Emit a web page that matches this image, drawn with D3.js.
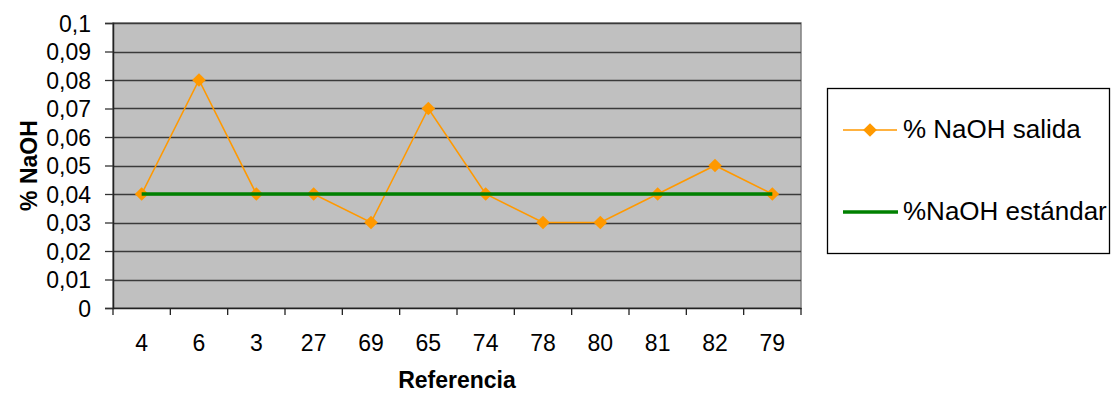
<!DOCTYPE html>
<html><head><meta charset="utf-8">
<script src="https://cdn.jsdelivr.net/npm/d3@7"></script>
<style>body{margin:0;background:#fff}svg{display:block;font-family:"Liberation Sans",Arial,sans-serif}</style>
</head><body><svg id="c" width="1115" height="396"></svg>
<script>
const categories = ["4","6","3","27","69","65","74","78","80","81","82","79"];
const salida = [0.04,0.08,0.04,0.04,0.03,0.07,0.04,0.03,0.03,0.04,0.05,0.04];
const estandar = [0.04,0.04,0.04,0.04,0.04,0.04,0.04,0.04,0.04,0.04,0.04,0.04];
const yTicks = [0,0.01,0.02,0.03,0.04,0.05,0.06,0.07,0.08,0.09,0.1];
const seriesNames = ["% NaOH salida","%NaOH estándar"];

const svg = d3.select("#c");
const L=113, R=801, T=23, B=308;
const x = d3.scaleBand().domain(categories).range([L,R]);
const y = d3.scaleLinear().domain([0,0.1]).range([B,T]);
const fmt = d => String(+d.toFixed(2)).replace(".",",");
const FF = "'Liberation Sans',Arial,sans-serif";

svg.append("rect").attr("x",L).attr("y",T).attr("width",R-L).attr("height",B-T)
  .attr("fill","#c0c0c0").attr("stroke","#808080").attr("stroke-width",1.5);

// gridlines
svg.append("g").selectAll("line").data(yTicks.filter(d=>d>0)).join("line")
  .attr("x1",L).attr("x2",R).attr("y1",d=>Math.round(y(d))+0.5).attr("y2",d=>Math.round(y(d))+0.5)
  .attr("stroke","#3a3a3a").attr("stroke-width",1.3);

// y axis
const ya = svg.append("g").attr("transform",`translate(${L},0)`)
  .call(d3.axisLeft(y).tickValues(yTicks).tickFormat(fmt).tickSize(8).tickPadding(14));
ya.select(".domain").attr("stroke","#222").attr("stroke-width",1.5);
ya.selectAll(".tick line").attr("stroke","#333").attr("stroke-width",1.3);
ya.selectAll("text").attr("font-size",23).attr("fill","#000").attr("dy","0.36em").attr("x",-22)
  .attr("font-family",FF);

// x axis
const xa = svg.append("g").attr("transform",`translate(0,${B})`)
  .call(d3.axisBottom(x).tickSize(0).tickPadding(0));
xa.select(".domain").attr("stroke","#222").attr("stroke-width",1.5);
xa.selectAll("text").attr("font-size",23).attr("fill","#000").attr("dy",0).attr("y",43)
  .attr("font-family",FF);
const bounds = categories.map(c=>x(c)).concat([R]);
xa.selectAll("line.b").data(bounds).join("line").attr("class","b")
  .attr("x1",d=>d).attr("x2",d=>d).attr("y1",0).attr("y2",7).attr("stroke","#222").attr("stroke-width",1.3);

const cx = c => x(c)+x.bandwidth()/2;
const diamond = d3.symbol().type(d3.symbolDiamond2).size(120);

// orange series
svg.append("path").datum(salida)
  .attr("d",d3.line().x((d,i)=>cx(categories[i])).y(d=>y(d)))
  .attr("fill","none").attr("stroke","#ff9900").attr("stroke-width",1.6);
svg.append("g").selectAll("path").data(salida).join("path")
  .attr("transform",(d,i)=>`translate(${cx(categories[i])},${y(d)})`)
  .attr("d",diamond).attr("fill","#ff9900");

// green series
svg.append("path").datum(estandar)
  .attr("d",d3.line().x((d,i)=>cx(categories[i])).y(d=>y(d)))
  .attr("fill","none").attr("stroke","#008000").attr("stroke-width",3.5);

// axis titles
svg.append("text").attr("x",(L+R)/2).attr("y",388).attr("text-anchor","middle")
  .attr("font-size",23).attr("font-weight","bold").text("Referencia");
svg.append("text").attr("transform",`translate(37,${(T+B)/2}) rotate(-90)`).attr("text-anchor","middle")
  .attr("font-size",23).attr("font-weight","bold").text("% NaOH");

// legend
const lg = svg.append("g");
lg.append("rect").attr("x",827.5).attr("y",88.5).attr("width",282).attr("height",165)
  .attr("fill","#fff").attr("stroke","#000").attr("stroke-width",1.3);
const ly = [130,212];
lg.append("line").attr("x1",843).attr("x2",897).attr("y1",ly[0]).attr("y2",ly[0]).attr("stroke","#ff9900").attr("stroke-width",1.6);
lg.append("path").attr("transform",`translate(870,${ly[0]})`).attr("d",diamond).attr("fill","#ff9900");
lg.append("line").attr("x1",843).attr("x2",898).attr("y1",ly[1]).attr("y2",ly[1]).attr("stroke","#008000").attr("stroke-width",3.5);
lg.selectAll("text.l").data(seriesNames).join("text").attr("class","l")
  .attr("x",903).attr("y",(d,i)=>ly[i]+8).attr("font-size",26).text(d=>d);
</script></body></html>
